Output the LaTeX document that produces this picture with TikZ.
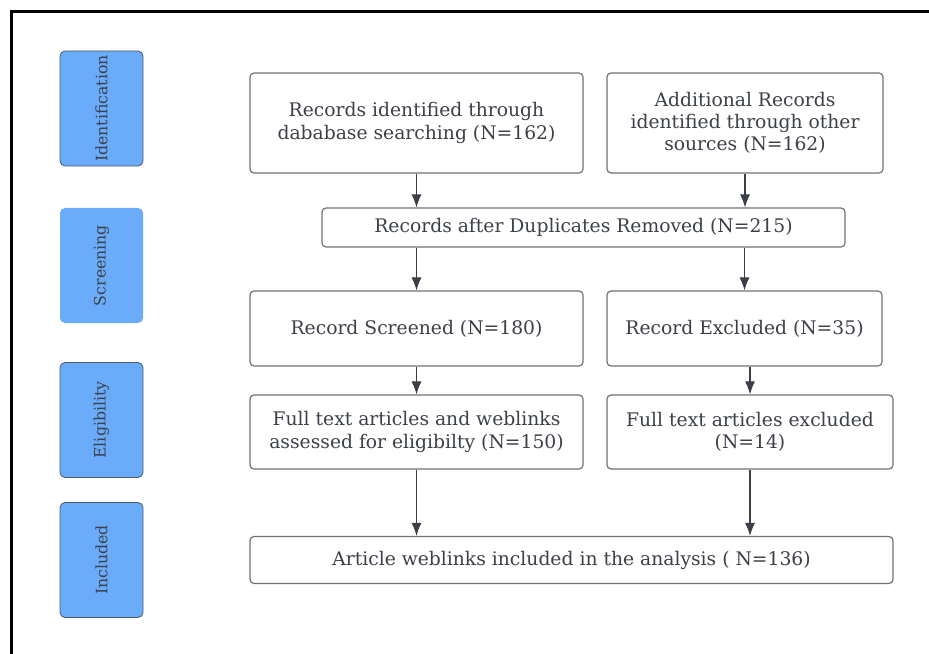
\documentclass[tikz,border=0pt]{standalone}
\usepackage{fontspec}
\setmainfont{DejaVu Serif}
\usepackage{tikz}
\usetikzlibrary{arrows.meta}

\definecolor{txtgray}{HTML}{3C4049}
\definecolor{boxgray}{HTML}{6E7278}
\definecolor{arrgray}{HTML}{3A3F48}
\definecolor{stageblue}{HTML}{6AABFA}
\definecolor{stageedge}{HTML}{4F5A68}

\begin{document}
\begin{tikzpicture}[x=1bp, y=-1bp,
    flowbox/.style={draw=boxgray, line width=1.2bp, rounded corners=4bp, fill=white,
      text=txtgray, align=center, inner sep=0pt,
      font=\fontsize{18.8}{22.4}\selectfont},
    stagebox/.style={fill=stageblue, draw=stageedge, line width=0.8bp, rounded corners=5bp,
      minimum width=83bp, minimum height=115bp, inner sep=0pt},
    stagetext/.style={rotate=90, text=txtgray, font=\fontsize{15.8}{18}\selectfont},
    flowarrow/.style={draw=arrgray, line width=1.1bp, -{Latex[length=13bp,width=10bp]}}]
        \useasboundingbox (0, 0) rectangle (929, 654);
        \fill[white] (0, 0) rectangle (929, 654);
        \draw[line width=3.5bp] (11.5, 654) -- (11.5, 11.5) -- (929, 11.5);
        % stages on the left
        \node[stagebox] (ident) at (101.5, 108.5) {};
        \node[stagebox, draw=none] (screen) at (101.5, 265.5) {};
        \node[stagebox] (elig) at (101.5, 420) {};
        \node[stagebox] (incl) at (101.5, 560) {};
        \node[stagetext] at (ident) {Identification};
        \node[stagetext] at (screen) {Screening};
        \node[stagetext] at (elig) {Eligibility};
        \node[stagetext] at (incl) {Included};
        % flow boxes
        \node[flowbox, minimum width=333bp, minimum height=100bp] (dbrec) at (416.5, 123)
          {Records identified through\\ dababase searching (N=162)};
        \node[flowbox, minimum width=276bp, minimum height=100bp] (otherrec) at (745, 123)
          {Additional Records\\ identified through other\\ sources (N=162)};
        \node[flowbox, minimum width=523bp, minimum height=39bp] (dedup) at (583.5, 227.5)
          {Records after Duplicates Removed (N=215)};
        \node[flowbox, minimum width=333bp, minimum height=75bp] (screened) at (416.5, 328.5)
          {Record Screened (N=180)};
        \node[flowbox, minimum width=275bp, minimum height=75bp] (excluded) at (744.5, 328.5)
          {Record Excluded (N=35)};
        \node[flowbox, minimum width=333bp, minimum height=74bp] (assessed) at (416.5, 432)
          {Full text articles and weblinks\\ assessed for eligibilty (N=150)};
        \node[flowbox, minimum width=286bp, minimum height=74bp] (ftexcl) at (750, 432)
          {Full text articles excluded\\ (N=14)};
        \node[flowbox, minimum width=643bp, minimum height=47bp] (final) at (571.5, 560)
          {Article weblinks included in the analysis ( N=136)};
        % arrows
        \draw[flowarrow] (dbrec.south) -- (dbrec.south |- dedup.north);
        \draw[flowarrow] (otherrec.south) -- (otherrec.south |- dedup.north);
        \draw[flowarrow] (dedup.south -| screened.north) -- (screened.north);
        \draw[flowarrow] (dedup.south -| excluded.north) -- (excluded.north);
        \draw[flowarrow] (screened.south) -- (assessed.north);
        \draw[flowarrow] (excluded.south -| ftexcl.north) -- (ftexcl.north);
        \draw[flowarrow] (assessed.south) -- (assessed.south |- final.north);
        \draw[flowarrow] (ftexcl.south) -- (ftexcl.south |- final.north);
\end{tikzpicture}
\end{document}
